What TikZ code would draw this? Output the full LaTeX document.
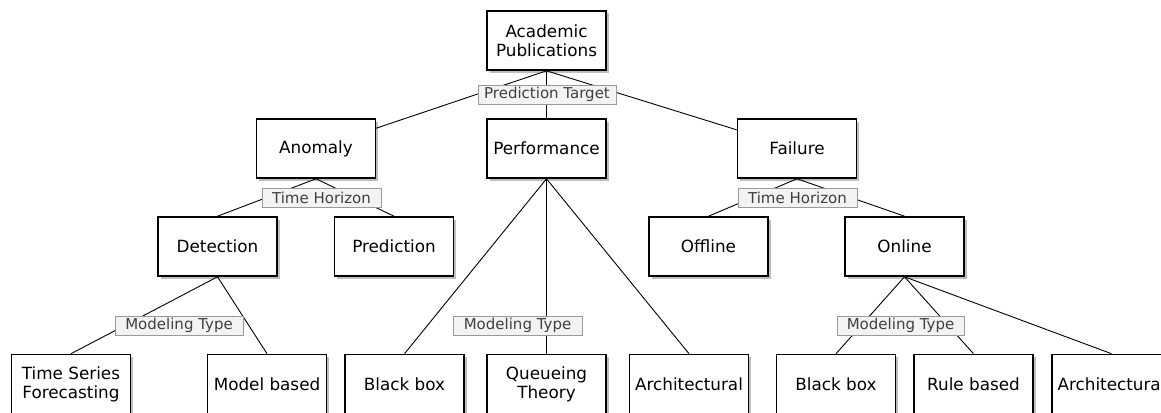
\documentclass[tikz,border=0pt]{standalone}
\usepackage{fontspec}
\setmainfont{DejaVu Sans}
\usetikzlibrary{shadows}
\definecolor{lblfill}{HTML}{F3F3F3}
\definecolor{lbldraw}{HTML}{9A9A9A}
\definecolor{lbltext}{HTML}{404040}
\tikzset{
  box/.style={draw=black, line width=1.6pt, fill=white, minimum width=119pt, minimum height=59pt,
    inner sep=0pt, align=center, font=\fontsize{16.8}{19}\selectfont,
    drop shadow={shadow xshift=2.5pt, shadow yshift=-2.5pt, fill=black, opacity=0.25}},
  lbl/.style={draw=lbldraw, line width=0.8pt, fill=lblfill, text=lbltext, minimum height=19pt,
    inner sep=0pt, font=\fontsize{15}{17}\selectfont},
  conn/.style={draw=black, line width=0.9pt}
}
\begin{document}
\begin{tikzpicture}[x=1pt,y=-1pt]
\useasboundingbox (0,0) rectangle (1161,412);
% nodes
\node[box] (acad) at (546.5,40.5) {Academic\\Publications};
\node[box] (anomaly) at (316,148.5) {Anomaly};
\node[box] (perf) at (546.5,148.5) {Performance};
\node[box] (failure) at (797,148.5) {Failure};
\node[box] (detection) at (217.5,246.5) {Detection};
\node[box] (prediction) at (394,246.5) {Prediction};
\node[box] (offline) at (708.5,246.5) {Offline};
\node[box] (online) at (904.5,246.5) {Online};
\node[box] (tsf) at (71,384) {Time Series\\Forecasting};
\node[box] (model) at (267,384) {Model based};
\node[box] (bbA) at (404.5,384) {Black box};
\node[box] (queue) at (546.5,384) {Queueing\\Theory};
\node[box] (archA) at (689,384) {Architectural};
\node[box] (bbB) at (836,384) {Black box};
\node[box] (rule) at (973.5,384) {Rule based};
\node[box] (archB) at (1111.5,384) {Architectural};
% connectors
\draw[conn] (acad.south) -- (anomaly);
\draw[conn] (acad.south) -- (perf.north);
\draw[conn] (acad.south) -- (failure);
\draw[conn] (anomaly.south) -- (detection.north);
\draw[conn] (anomaly.south) -- (prediction.north);
\draw[conn] (perf.south) -- (bbA.north);
\draw[conn] (perf.south) -- (queue.north);
\draw[conn] (perf.south) -- (archA.north);
\draw[conn] (failure.south) -- (offline.north);
\draw[conn] (failure.south) -- (online.north);
\draw[conn] (detection.south) -- (tsf.north);
\draw[conn] (detection.south) -- (model.north);
\draw[conn] (online.south) -- (bbB.north);
\draw[conn] (online.south) -- (rule.north);
\draw[conn] (online.south) -- (archB.north);
% labels
\node[lbl, minimum width=138pt] (lPT) at (547,94.5) {Prediction Target};
\node[lbl, minimum width=119pt] (lTH1) at (321.5,198) {Time Horizon};
\node[lbl, minimum width=119pt] (lTH2) at (797.5,198) {Time Horizon};
\node[lbl, minimum width=128pt] (lMT1) at (179,325.5) {Modeling Type};
\node[lbl, minimum width=129pt] (lMT2) at (517.5,325.5) {Modeling Type};
\node[lbl, minimum width=127pt] (lMT3) at (900.5,325.5) {Modeling Type};
\end{tikzpicture}
\end{document}
